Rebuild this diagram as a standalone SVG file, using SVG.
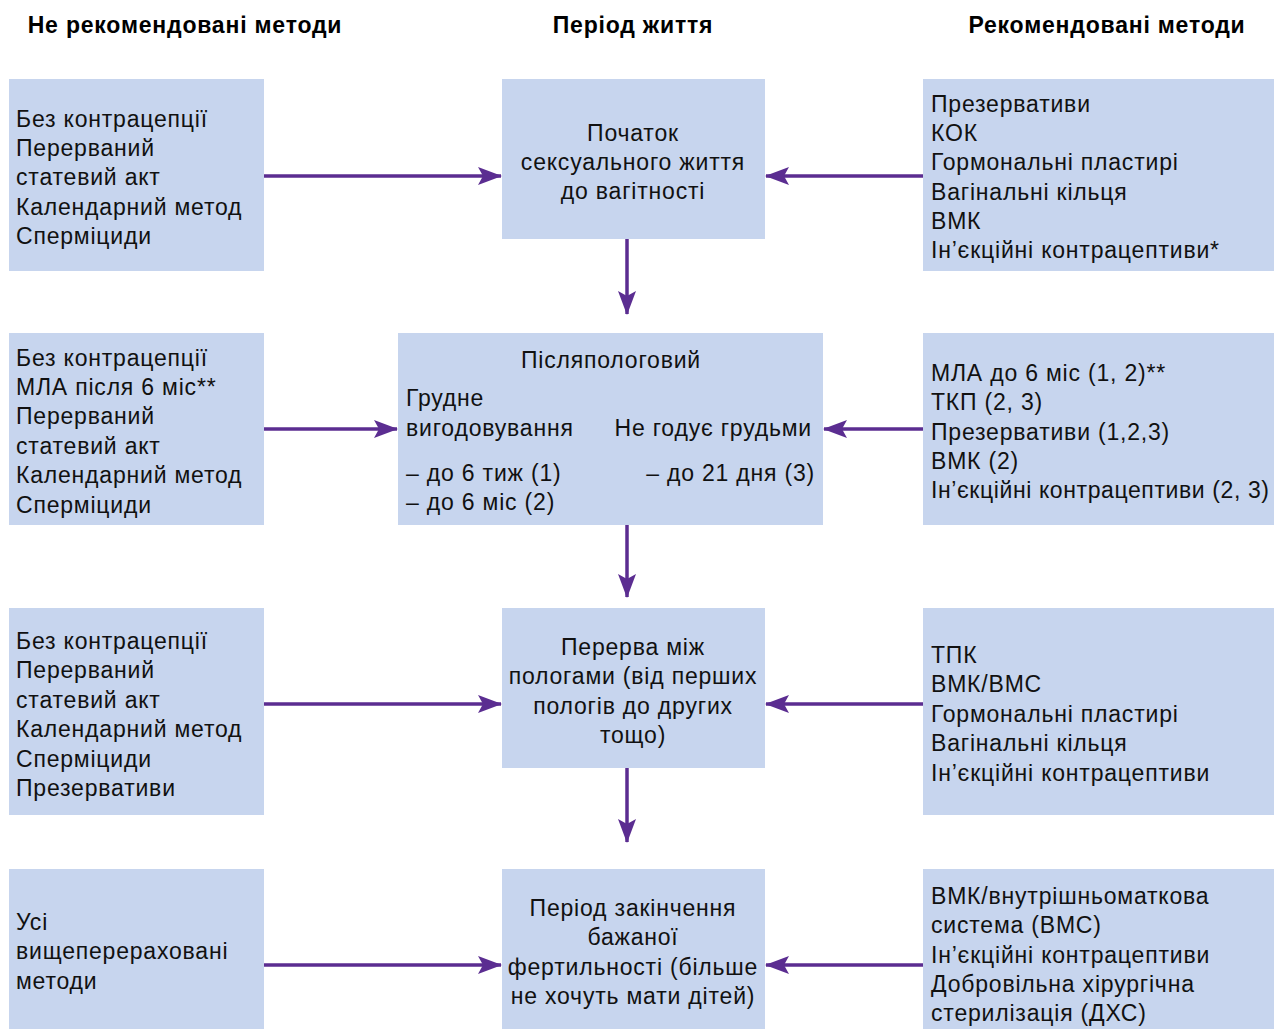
<svg xmlns="http://www.w3.org/2000/svg" width="1274" height="1029" viewBox="0 0 1274 1029">
<defs>
<style>
.box{fill:#c7d5ee;}
.t{font-family:"Liberation Sans",Arial,sans-serif;font-size:23px;letter-spacing:0.8px;fill:#111;}
.c{text-anchor:middle;}
.r{text-anchor:end;}
.n{letter-spacing:0.6px;}
.h{font-family:"Liberation Sans",Arial,sans-serif;font-size:23px;letter-spacing:0.8px;font-weight:bold;fill:#000;text-anchor:middle;}
.con{stroke:#5b2d91;stroke-width:3.5;fill:none;marker-end:url(#ah);}
</style>
<marker id="ah" viewBox="0 0 24 18" refX="23" refY="9" markerWidth="24" markerHeight="18" markerUnits="userSpaceOnUse" orient="auto">
<path d="M0,0 L24,9 L0,18 L5,9 Z" fill="#5b2d91"/>
</marker>
</defs>
<rect width="1274" height="1029" fill="#fff"/>
<g id="headers">
<text class="h" x="185" y="33">Не рекомендовані методи</text>
<text class="h" x="633" y="33">Період життя</text>
<text class="h" x="1107" y="33">Рекомендовані методи</text>
</g>
<g id="connectors">
<line class="con" x1="264" y1="176" x2="501" y2="176"/>
<line class="con" x1="923" y1="176" x2="766" y2="176"/>
<line class="con" x1="627" y1="239" x2="627" y2="314"/>
<line class="con" x1="264" y1="429" x2="397" y2="429"/>
<line class="con" x1="923" y1="429" x2="824" y2="429"/>
<line class="con" x1="627" y1="525" x2="627" y2="597"/>
<line class="con" x1="264" y1="704" x2="501" y2="704"/>
<line class="con" x1="923" y1="704" x2="766" y2="704"/>
<line class="con" x1="627" y1="768" x2="627" y2="842"/>
<line class="con" x1="264" y1="965" x2="501" y2="965"/>
<line class="con" x1="923" y1="965" x2="766" y2="965"/>
</g>
<g id="n1-left">
<rect class="box" x="9" y="79" width="255" height="192"/>
<text class="t" x="16" y="127">Без контрацепції</text>
<text class="t" x="16" y="156">Перерваний</text>
<text class="t" x="16" y="185">статевий акт</text>
<text class="t" x="16" y="215">Календарний метод</text>
<text class="t" x="16" y="244">Сперміциди</text>
</g>
<g id="n1-center">
<rect class="box" x="502" y="79" width="263" height="160"/>
<text class="t c" x="633" y="141">Початок</text>
<text class="t c" x="633" y="170">сексуального життя</text>
<text class="t c" x="633" y="199">до вагітності</text>
</g>
<g id="n1-right">
<rect class="box" x="923" y="79" width="351" height="192"/>
<text class="t" x="931" y="112">Презервативи</text>
<text class="t" x="931" y="141">КОК</text>
<text class="t" x="931" y="170">Гормональні пластирі</text>
<text class="t" x="931" y="200">Вагінальні кільця</text>
<text class="t" x="931" y="229">ВМК</text>
<text class="t" x="931" y="258">Ін’єкційні контрацептиви*</text>
</g>
<g id="n2-left">
<rect class="box" x="9" y="333" width="255" height="192"/>
<text class="t" x="16" y="366">Без контрацепції</text>
<text class="t" x="16" y="395">МЛА після 6 міс**</text>
<text class="t" x="16" y="424">Перерваний</text>
<text class="t" x="16" y="454">статевий акт</text>
<text class="t" x="16" y="483">Календарний метод</text>
<text class="t" x="16" y="513">Сперміциди</text>
</g>
<g id="n2-center">
<rect class="box" x="398" y="333" width="425" height="192"/>
<text class="t c" x="611" y="368">Післяпологовий</text>
<text class="t" x="406" y="406">Грудне</text>
<text class="t" x="406" y="436">вигодовування</text>
<text class="t r" x="812" y="436">Не годує грудьми</text>
<text class="t" x="406" y="481">– до 6 тиж (1)</text>
<text class="t" x="406" y="510">– до 6 міс (2)</text>
<text class="t r" x="815" y="481">– до 21 дня (3)</text>
</g>
<g id="n2-right">
<rect class="box" x="923" y="333" width="351" height="192"/>
<text class="t" x="931" y="381">МЛА до 6 міс (1, 2)**</text>
<text class="t" x="931" y="410">ТКП (2, 3)</text>
<text class="t" x="931" y="440">Презервативи (1,2,3)</text>
<text class="t" x="931" y="469">ВМК (2)</text>
<text class="t n" x="931" y="498">Ін’єкційні контрацептиви (2, 3)</text>
</g>
<g id="n3-left">
<rect class="box" x="9" y="608" width="255" height="207"/>
<text class="t" x="16" y="649">Без контрацепції</text>
<text class="t" x="16" y="678">Перерваний</text>
<text class="t" x="16" y="708">статевий акт</text>
<text class="t" x="16" y="737">Календарний метод</text>
<text class="t" x="16" y="767">Сперміциди</text>
<text class="t" x="16" y="796">Презервативи</text>
</g>
<g id="n3-center">
<rect class="box" x="502" y="608" width="263" height="160"/>
<text class="t c" x="633" y="655">Перерва між</text>
<text class="t c" x="633" y="684">пологами (від перших</text>
<text class="t c" x="633" y="714">пологів до других</text>
<text class="t c" x="633" y="743">тощо)</text>
</g>
<g id="n3-right">
<rect class="box" x="923" y="608" width="351" height="207"/>
<text class="t" x="931" y="663">ТПК</text>
<text class="t" x="931" y="692">ВМК/ВМС</text>
<text class="t" x="931" y="722">Гормональні пластирі</text>
<text class="t" x="931" y="751">Вагінальні кільця</text>
<text class="t" x="931" y="781">Ін’єкційні контрацептиви</text>
</g>
<g id="n4-left">
<rect class="box" x="9" y="869" width="255" height="160"/>
<text class="t" x="16" y="930">Усі</text>
<text class="t" x="16" y="959">вищеперераховані</text>
<text class="t" x="16" y="989">методи</text>
</g>
<g id="n4-center">
<rect class="box" x="502" y="869" width="263" height="160"/>
<text class="t c" x="633" y="916">Період закінчення</text>
<text class="t c" x="633" y="945">бажаної</text>
<text class="t c" x="633" y="975">фертильності (більше</text>
<text class="t c" x="633" y="1004">не хочуть мати дітей)</text>
</g>
<g id="n4-right">
<rect class="box" x="923" y="869" width="351" height="160"/>
<text class="t" x="931" y="904">ВМК/внутрішньоматкова</text>
<text class="t" x="931" y="933">система (ВМС)</text>
<text class="t" x="931" y="963">Ін’єкційні контрацептиви</text>
<text class="t" x="931" y="992">Добровільна хірургічна</text>
<text class="t" x="931" y="1021">стерилізація (ДХС)</text>
</g>
</svg>
